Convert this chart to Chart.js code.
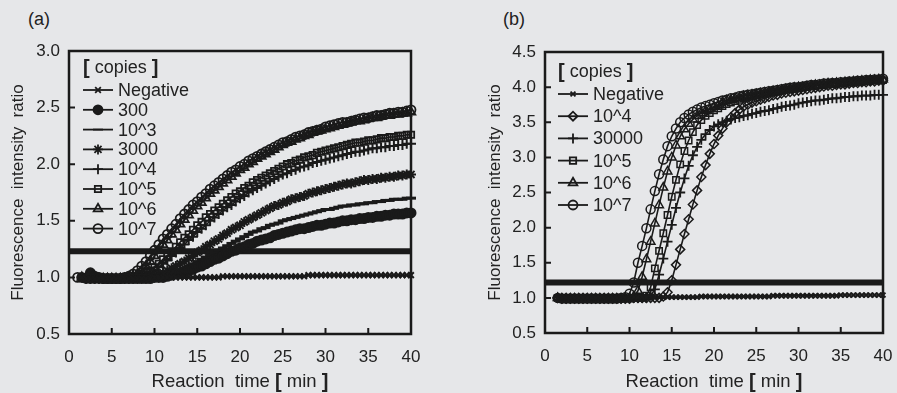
<!DOCTYPE html>
<html><head><meta charset="utf-8">
<script src="https://cdn.jsdelivr.net/npm/chart.js@4.4.1/dist/chart.umd.min.js"></script>
<style>
html,body{margin:0;padding:0;background:#e6e7e9;}
#wrap{position:relative;width:897px;height:393px;overflow:hidden;background:#e6e7e9;}
canvas{position:absolute;top:0;}
#ca{left:0;} #cb{left:448px;}
.lab{position:absolute;top:9px;font:18px "Liberation Sans",Arial,sans-serif;color:#222;}
</style></head><body>
<div id="wrap">
<div class="lab" style="left:28px">(a)</div>
<div class="lab" style="left:503px">(b)</div>
<canvas id="ca" width="448" height="393"></canvas>
<canvas id="cb" width="449" height="393"></canvas>
</div>
<script>
// ---------- DATA ----------
const times = [1,1.5,2,2.5,3,3.5,4,4.5,5,5.5,
 6,6.5,7,7.5,8,8.5,9,9.5,10,10.5,
 11,11.5,12,12.5,13,13.5,14,14.5,15,15.5,
 16,16.5,17,17.5,18,18.5,19,19.5,20,20.5,
 21,21.5,22,22.5,23,23.5,24,24.5,25,25.5,
 26,26.5,27,27.5,28,28.5,29,29.5,30,30.5,
 31,31.5,32,32.5,33,33.5,34,34.5,35,35.5,
 36,36.5,37,37.5,38,38.5,39,39.5,40];

const xTicks = [0,5,10,15,20,25,30,35,40];
const yTicksA = [0.5,1.0,1.5,2.0,2.5,3.0];
const yTicksB = [0.5,1.0,1.5,2.0,2.5,3.0,3.5,4.0,4.5];
const thresholdA = 1.23;
const thresholdB = 1.22;

// Panel (a)
const labelsA = ['Negative','300','10^3','3000','10^4','10^5','10^6','10^7'];
const aNegative = [null,1.00,0.99,0.99,0.99,0.99,0.99,0.99,0.99,0.99,
 0.99,0.99,0.99,0.99,0.99,0.99,0.99,0.99,1.00,1.00,
 1.00,1.00,1.00,1.00,1.00,1.00,1.00,1.00,1.00,1.00,
 1.00,1.00,1.00,1.00,1.01,1.01,1.01,1.01,1.01,1.01,
 1.01,1.01,1.01,1.01,1.01,1.01,1.01,1.01,1.01,1.01,
 1.01,1.01,1.01,1.01,1.02,1.02,1.02,1.02,1.02,1.02,
 1.02,1.02,1.02,1.02,1.02,1.02,1.02,1.02,1.02,1.02,
 1.02,1.02,1.02,1.02,1.02,1.02,1.02,1.02,1.02];
const a300 = [null,null,null,1.04,1.01,1.00,0.99,0.99,0.99,0.99,
 0.99,0.99,0.99,0.99,0.99,0.99,0.99,0.99,1.00,1.00,
 1.00,1.01,1.02,1.03,1.04,1.05,1.06,1.07,1.09,1.10,
 1.12,1.14,1.16,1.17,1.19,1.21,1.23,1.24,1.26,1.27,
 1.29,1.30,1.32,1.33,1.34,1.35,1.37,1.38,1.39,1.40,
 1.41,1.42,1.43,1.43,1.44,1.45,1.46,1.46,1.47,1.48,
 1.48,1.49,1.50,1.50,1.51,1.51,1.52,1.52,1.53,1.53,
 1.54,1.54,1.55,1.55,1.56,1.56,1.56,1.57,1.57];
const a1e3 = [null,1.00,0.99,0.99,0.99,0.99,0.99,0.99,0.99,0.99,
 0.99,0.99,0.99,0.99,0.99,0.99,0.99,1.00,1.00,1.00,
 1.01,1.02,1.03,1.05,1.06,1.08,1.10,1.12,1.14,1.16,
 1.18,1.20,1.22,1.24,1.26,1.28,1.30,1.32,1.34,1.36,
 1.38,1.40,1.41,1.43,1.44,1.46,1.47,1.48,1.50,1.51,
 1.52,1.53,1.54,1.55,1.56,1.57,1.58,1.59,1.60,1.60,
 1.61,1.62,1.63,1.63,1.64,1.64,1.65,1.65,1.66,1.66,
 1.67,1.67,1.68,1.68,1.69,1.69,1.69,1.70,1.70];
const a3000 = [null,1.00,0.99,0.99,0.99,0.99,0.99,0.99,0.99,0.99,
 0.99,0.99,0.99,0.99,1.00,1.00,1.00,1.01,1.02,1.03,
 1.04,1.06,1.08,1.10,1.12,1.14,1.17,1.19,1.22,1.24,
 1.27,1.29,1.32,1.34,1.37,1.39,1.42,1.44,1.46,1.49,
 1.51,1.53,1.55,1.57,1.59,1.61,1.63,1.64,1.66,1.67,
 1.69,1.70,1.71,1.72,1.74,1.75,1.76,1.77,1.78,1.79,
 1.80,1.81,1.82,1.83,1.83,1.84,1.85,1.86,1.86,1.87,
 1.87,1.88,1.88,1.89,1.89,1.90,1.90,1.91,1.91];
const a1e4 = [null,1.00,0.99,0.99,0.99,0.99,0.99,0.99,0.99,0.99,
 0.99,0.99,0.99,1.00,1.00,1.01,1.02,1.04,1.06,1.09,
 1.12,1.15,1.19,1.22,1.26,1.29,1.33,1.36,1.40,1.43,
 1.46,1.50,1.53,1.56,1.59,1.62,1.64,1.67,1.70,1.72,
 1.75,1.77,1.79,1.81,1.83,1.85,1.87,1.89,1.91,1.92,
 1.94,1.95,1.97,1.98,1.99,2.01,2.02,2.03,2.04,2.05,
 2.06,2.07,2.08,2.09,2.10,2.11,2.11,2.12,2.13,2.14,
 2.14,2.15,2.15,2.16,2.16,2.17,2.17,2.18,2.18];
const a1e5 = [null,1.00,0.99,0.99,0.99,0.99,0.99,0.99,0.99,0.99,
 0.99,0.99,0.99,1.00,1.01,1.02,1.04,1.06,1.09,1.12,
 1.16,1.19,1.23,1.27,1.31,1.35,1.38,1.42,1.46,1.49,
 1.53,1.56,1.59,1.62,1.65,1.68,1.71,1.74,1.76,1.79,
 1.81,1.84,1.86,1.88,1.90,1.92,1.94,1.96,1.98,2.00,
 2.01,2.03,2.04,2.06,2.07,2.08,2.10,2.11,2.12,2.13,
 2.14,2.15,2.16,2.17,2.18,2.19,2.19,2.20,2.21,2.21,
 2.22,2.23,2.23,2.24,2.24,2.25,2.25,2.26,2.26];
const a1e6 = [null,1.00,0.99,0.99,0.99,0.99,0.99,0.99,0.99,0.99,
 0.99,0.99,1.00,1.01,1.03,1.06,1.10,1.14,1.19,1.24,
 1.29,1.33,1.38,1.42,1.47,1.51,1.55,1.59,1.63,1.66,
 1.70,1.74,1.77,1.80,1.83,1.86,1.89,1.92,1.95,1.97,
 2.00,2.02,2.05,2.07,2.09,2.11,2.13,2.15,2.17,2.19,
 2.20,2.22,2.23,2.25,2.26,2.28,2.29,2.30,2.31,2.32,
 2.33,2.34,2.35,2.36,2.37,2.38,2.38,2.39,2.40,2.41,
 2.41,2.42,2.43,2.43,2.44,2.44,2.45,2.45,2.46];
const a1e7 = [1.00,1.00,0.99,0.99,0.99,0.99,0.99,0.99,0.99,0.99,
 0.99,1.00,1.01,1.03,1.06,1.10,1.14,1.19,1.24,1.29,
 1.34,1.38,1.43,1.47,1.52,1.56,1.60,1.64,1.67,1.71,
 1.74,1.78,1.81,1.84,1.87,1.90,1.93,1.95,1.98,2.00,
 2.03,2.05,2.07,2.09,2.11,2.13,2.15,2.17,2.19,2.20,
 2.22,2.24,2.25,2.26,2.28,2.29,2.30,2.31,2.33,2.34,
 2.35,2.36,2.37,2.37,2.38,2.39,2.40,2.41,2.41,2.42,
 2.43,2.43,2.44,2.45,2.45,2.46,2.46,2.47,2.48];

// Panel (b)
const labelsB = ['Negative','10^4','30000','10^5','10^6','10^7'];
const bNegative = [null,1.00,1.00,1.00,1.00,1.00,1.00,1.00,1.00,1.00,
 1.00,1.00,1.00,1.00,1.00,1.00,1.00,1.00,1.00,1.01,
 1.01,1.01,1.01,1.01,1.01,1.01,1.01,1.01,1.01,1.01,
 1.01,1.01,1.01,1.01,1.01,1.02,1.02,1.02,1.02,1.02,
 1.02,1.02,1.02,1.02,1.02,1.02,1.02,1.02,1.02,1.02,
 1.02,1.02,1.03,1.03,1.03,1.03,1.03,1.03,1.03,1.03,
 1.03,1.03,1.03,1.03,1.03,1.03,1.03,1.03,1.04,1.04,
 1.04,1.04,1.04,1.04,1.04,1.04,1.04,1.04,1.04];
const b1e4 = [null,1.00,0.99,0.99,0.99,0.99,0.99,0.99,0.99,0.99,
 0.99,0.99,0.99,0.99,0.99,0.99,0.99,0.99,0.99,1.00,
 1.00,1.00,1.00,1.00,1.00,1.00,1.02,1.08,1.25,1.47,
 1.69,1.91,2.12,2.33,2.53,2.72,2.89,3.05,3.19,3.31,
 3.41,3.50,3.57,3.63,3.68,3.72,3.75,3.78,3.80,3.82,
 3.84,3.86,3.88,3.89,3.91,3.92,3.93,3.94,3.95,3.96,
 3.97,3.98,3.99,4.00,4.01,4.02,4.02,4.03,4.04,4.04,
 4.05,4.06,4.06,4.07,4.07,4.08,4.08,4.09,4.09];
const b30000 = [null,1.00,0.99,0.99,0.99,0.99,0.99,0.99,0.99,0.99,
 0.99,0.99,0.99,0.99,0.99,0.99,0.99,0.99,0.99,1.00,
 1.00,1.00,1.00,1.03,1.12,1.33,1.56,1.80,2.04,2.28,
 2.50,2.70,2.88,3.03,3.15,3.25,3.33,3.39,3.44,3.47,
 3.50,3.52,3.54,3.56,3.57,3.59,3.60,3.62,3.63,3.65,
 3.66,3.67,3.69,3.70,3.72,3.73,3.74,3.75,3.77,3.78,
 3.79,3.80,3.81,3.81,3.82,3.83,3.84,3.84,3.85,3.86,
 3.86,3.87,3.87,3.88,3.88,3.88,3.89,3.89,3.89];
const b1e5 = [null,1.00,0.99,0.99,0.99,0.99,0.99,0.99,0.99,0.99,
 0.99,0.99,0.99,0.99,0.99,0.99,0.99,0.99,0.99,1.00,
 1.00,1.00,1.03,1.15,1.42,1.67,1.92,2.18,2.44,2.68,
 2.90,3.09,3.24,3.36,3.46,3.53,3.59,3.63,3.67,3.70,
 3.73,3.76,3.78,3.80,3.82,3.84,3.85,3.87,3.88,3.89,
 3.91,3.92,3.93,3.94,3.95,3.96,3.97,3.98,3.99,4.00,
 4.01,4.01,4.02,4.03,4.03,4.04,4.05,4.05,4.06,4.06,
 4.07,4.07,4.08,4.08,4.09,4.09,4.10,4.10,4.10];
const b1e6 = [null,1.00,0.99,0.99,0.99,0.99,0.99,0.99,0.99,0.99,
 0.99,0.99,0.99,0.99,0.99,0.99,0.99,1.00,1.00,1.02,
 1.10,1.30,1.55,1.80,2.06,2.32,2.57,2.80,3.00,3.17,
 3.30,3.40,3.48,3.54,3.59,3.63,3.66,3.69,3.72,3.74,
 3.79,3.81,3.82,3.84,3.85,3.87,3.88,3.89,3.90,3.91,
 3.92,3.93,3.94,3.95,3.96,3.97,3.98,3.99,4.00,4.00,
 4.01,4.02,4.03,4.03,4.04,4.05,4.05,4.06,4.06,4.07,
 4.07,4.08,4.08,4.09,4.09,4.10,4.10,4.11,4.11];
const b1e7 = [null,1.00,0.99,0.99,0.99,0.99,0.99,0.99,0.99,0.99,
 0.99,0.99,0.99,0.99,0.99,0.99,1.00,1.01,1.06,1.22,
 1.50,1.74,1.99,2.26,2.52,2.76,2.97,3.16,3.30,3.41,
 3.50,3.56,3.61,3.65,3.68,3.71,3.73,3.75,3.77,3.79,
 3.81,3.82,3.84,3.85,3.87,3.88,3.89,3.90,3.91,3.92,
 3.93,3.94,3.95,3.96,3.97,3.98,3.99,4.00,4.00,4.01,
 4.02,4.03,4.03,4.04,4.05,4.05,4.06,4.06,4.07,4.07,
 4.08,4.08,4.09,4.09,4.10,4.10,4.11,4.11,4.12];

// ---------- STYLES ----------
const INK = '#1a1a1a';
const TXT = '#222222';
const FONT = '"Liberation Sans", Arial, sans-serif';
const stylesA = [
  {pointStyle:'crossRot', radius:4, bw:2},
  {pointStyle:'circle', radius:4.5, fill:true, bw:2},
  {pointStyle:'line', radius:5, bw:3},
  {pointStyle:'star', radius:5, bw:2},
  {pointStyle:'cross', radius:5, bw:2},
  {pointStyle:'rect', radius:4.5, bw:1.8},
  {pointStyle:'triangle', radius:5, bw:1.8},
  {pointStyle:'circle', radius:4.5, bw:1.8}
];
const stylesB = [
  {pointStyle:'crossRot', radius:3.5, bw:2},
  {pointStyle:'rectRot', radius:4.5, bw:1.5},
  {pointStyle:'cross', radius:5, bw:1.8},
  {pointStyle:'rect', radius:4.5, bw:1.5},
  {pointStyle:'triangle', radius:5, bw:1.5},
  {pointStyle:'circle', radius:4.5, bw:1.5}
];

function toPoints(arr){
  const out = [];
  times.forEach((t,i)=>{ if(arr[i]!==null && arr[i]!==undefined) out.push({x:t,y:arr[i]}); });
  return out;
}
function makeSeries(labels, arrays, styles){
  return labels.map((lab,i)=>({
    label: lab,
    data: toPoints(arrays[i]),
    borderColor: INK,
    borderWidth: 1.6,
    pointStyle: styles[i].pointStyle,
    pointRadius: styles[i].radius,
    pointBorderWidth: styles[i].bw,
    pointBorderColor: INK,
    pointBackgroundColor: styles[i].fill ? INK : 'rgba(0,0,0,0)',
    fill: false,
    tension: 0,
    clip: false
  }));
}
function thresholdSet(v){
  return {label:'threshold', isThreshold:true, data:[{x:0,y:v},{x:40,y:v}],
    borderColor:INK, borderWidth:6, pointRadius:0, fill:false, clip:false};
}

const decor = {
  id:'decor',
  afterDraw(chart, args, o){
    const {ctx, chartArea:ca, scales:{x, y}} = chart;
    ctx.save();
    ctx.strokeStyle = INK;
    ctx.lineWidth = 2.5;
    ctx.strokeRect(ca.left, ca.top, ca.right-ca.left, ca.bottom-ca.top);
    ctx.lineWidth = 2;
    ctx.beginPath();
    x.ticks.forEach(t=>{ const px = x.getPixelForValue(t.value); ctx.moveTo(px, ca.bottom); ctx.lineTo(px, ca.bottom-6); });
    y.ticks.forEach(t=>{ const py = y.getPixelForValue(t.value); ctx.moveTo(ca.left, py); ctx.lineTo(ca.left+6, py); });
    ctx.stroke();

    // x title with bold brackets
    const parts = [['Reaction  time ', false], ['[', true], [' min ', false], [']', true]];
    const setF = b => { ctx.font = b ? 'bold 20px ' + FONT : '18.5px ' + FONT; };
    let total = 0;
    parts.forEach(p=>{ setF(p[1]); total += ctx.measureText(p[0]).width; });
    let tx = (ca.left + ca.right)/2 - total/2;
    ctx.fillStyle = TXT; ctx.textBaseline = 'middle'; ctx.textAlign = 'left';
    parts.forEach(p=>{ setF(p[1]); ctx.fillText(p[0], tx, o.xTitleY); tx += ctx.measureText(p[0]).width; });

    // legend
    const L = o.legend;
    let lx = L.x;
    const setL = b => { ctx.font = b ? 'bold 20px ' + FONT : '18px ' + FONT; };
    const tparts = [['[', true], [' copies ', false], [']', true]];
    tparts.forEach(p=>{ setL(p[1]); ctx.fillText(p[0], lx, L.titleY); lx += ctx.measureText(p[0]).width; });
    ctx.font = '18px ' + FONT;
    const items = chart.data.datasets.filter(d=>!d.isThreshold);
    items.forEach((d,i)=>{
      const yy = L.y0 + i*L.dy;
      ctx.strokeStyle = INK; ctx.lineWidth = 1.8;
      ctx.beginPath(); ctx.moveTo(L.x, yy); ctx.lineTo(L.x + 30, yy); ctx.stroke();
      ctx.fillStyle = d.pointBackgroundColor;
      ctx.lineWidth = 1.8;
      Chart.helpers.drawPoint(ctx, {pointStyle:d.pointStyle, radius:d.pointRadius, rotation:0, borderWidth:1.8}, L.x+15, yy);
      ctx.fillStyle = TXT;
      ctx.fillText(d.label, L.x + 35, yy+1);
    });
    ctx.restore();
  }
};

function makeChart(id, datasets, yMin, yMax, yTicks, geo){
  return new Chart(document.getElementById(id), {
    type:'line',
    data:{datasets},
    plugins:[decor],
    options:{
      responsive:false, animation:false, devicePixelRatio:1,
      layout:{padding:{left:0, right:geo.padRight, top:geo.padTop, bottom:0}},
      plugins:{legend:{display:false}, tooltip:{enabled:false},
        decor:{legend:geo.legend, xTitleY:geo.xTitleY}},
      scales:{
        x:{type:'linear', min:0, max:40,
          afterBuildTicks: s => { s.ticks = xTicks.map(v=>({value:v})); },
          afterFit: s => { s.height = geo.xHeight; s.paddingLeft = 0; s.paddingRight = 0; },
          grid:{display:false, drawTicks:false}, border:{display:false},
          ticks:{color:TXT, font:{family:FONT, size:17}, padding:13, maxRotation:0}
        },
        y:{type:'linear', min:yMin, max:yMax,
          afterBuildTicks: s => { s.ticks = yTicks.map(v=>({value:v})); },
          afterFit: s => { s.width = geo.yWidth; s.paddingTop = 0; s.paddingBottom = 0; },
          grid:{display:false, drawTicks:false}, border:{display:false},
          ticks:{color:TXT, font:{family:FONT, size:17}, padding:9, callback:v=>Number(v).toFixed(1)},
          title:{display:true, text:'Fluorescence  intensity  ratio', color:TXT,
            font:{family:FONT, size:17}, padding:{top:geo.yTitlePad, bottom:0}}
        }
      }
    }
  });
}

const dsA = makeSeries(labelsA, [aNegative,a300,a1e3,a3000,a1e4,a1e5,a1e6,a1e7], stylesA);
dsA.push(thresholdSet(thresholdA));
const dsB = makeSeries(labelsB, [bNegative,b1e4,b30000,b1e5,b1e6,b1e7], stylesB);
dsB.push(thresholdSet(thresholdB));

makeChart('ca', dsA, 0.5, 3.0, yTicksA, {
  padRight:37, padTop:51, xHeight:59, yWidth:69, yTitlePad:8, xTitleY:382,
  legend:{x:83, titleY:68, y0:90, dy:19.8}
});
makeChart('cb', dsB, 0.5, 4.5, yTicksB, {
  padRight:14, padTop:52, xHeight:60, yWidth:97, yTitlePad:37, xTitleY:382,
  legend:{x:110, titleY:72, y0:94, dy:22.2}
});
</script>
</body></html>
